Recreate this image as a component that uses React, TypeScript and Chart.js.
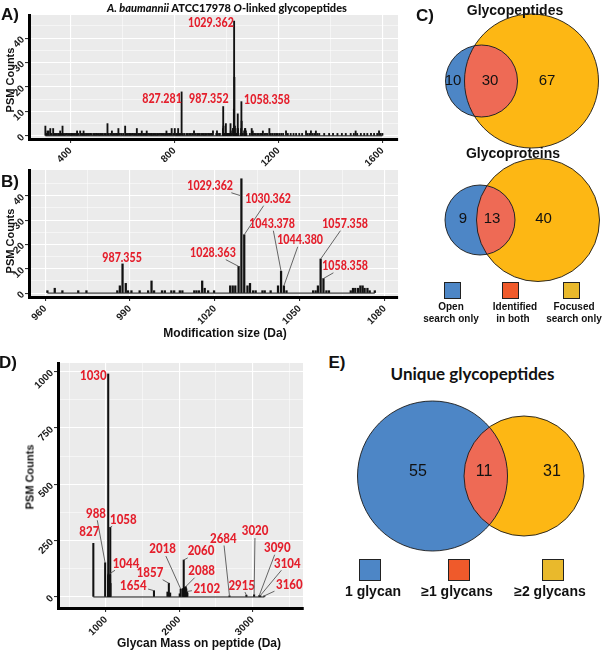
import React, { useEffect, useRef } from 'react';
import { Chart, registerables } from 'chart.js';

Chart.register(...registerables);

type Bar = [number, number];
type Ann = { text: string; x: number; y: number; tx?: number; ty?: number };

// ================= DATA =================
// Panel A – open search, modification mass (Da) vs PSM counts (outside the 954–1085 window)
const panelALowBars: Bar[] = [
  [303, 4], [307, 1], [311, 2], [316, 2], [322, 3], [327, 1], [333, 3], [338, 1], [342, 1], [347, 1],
  [352, 1], [356, 1], [360, 2], [365, 1], [369, 4], [374, 1], [379, 1], [386, 1], [391, 1], [397, 1],
  [402, 1], [406, 1], [411, 1], [416, 1], [421, 1], [425, 2], [430, 1], [437, 2], [442, 1], [446, 1],
  [450, 2], [455, 1], [460, 1], [465, 1], [470, 1], [475, 1], [481, 1], [488, 1], [493, 1], [498, 1],
  [503, 1], [509, 1], [514, 1], [519, 1], [524, 1], [530, 1], [536, 1], [542, 5], [547, 1], [553, 1],
  [559, 2], [564, 1], [570, 1], [575, 1], [580, 1], [584, 3], [590, 1], [597, 1], [603, 1], [610, 4],
  [615, 1], [620, 1], [625, 1], [629, 1], [634, 1], [640, 1], [645, 1], [650, 1], [655, 3], [660, 1],
  [665, 1], [670, 1], [674, 2], [679, 1], [684, 1], [689, 1], [693, 2], [698, 1], [704, 1], [709, 1],
  [713, 1], [718, 1], [723, 1], [728, 1], [733, 1], [738, 1], [744, 1], [749, 1], [754, 1], [759, 1],
  [764, 1], [769, 2], [774, 1], [779, 1], [784, 1], [789, 3], [795, 1], [801, 3], [806, 1], [810, 1],
  [814, 3], [818, 1], [822, 1], [827.281, 18], [832, 1], [838, 1], [846, 1], [851, 1], [857, 1], [863, 1],
  [869, 1], [875, 2], [881, 1], [887, 1], [892, 1], [897, 1], [903, 1], [908, 1], [913, 1], [918, 1],
  [923, 1], [929, 1], [934, 1], [939, 1], [944, 1], [948, 2],
];
const panelAHighBars: Bar[] = [
  [1090, 1], [1097, 3], [1101, 2], [1106, 1], [1112, 1], [1118, 1], [1124, 1], [1130, 1], [1135, 1], [1140, 2],
  [1146, 1], [1152, 1], [1158, 1], [1165, 3], [1171, 1], [1178, 1], [1185, 1], [1191, 1], [1197, 1], [1204, 1],
  [1211, 1], [1218, 1], [1229, 2], [1236, 1], [1247, 1], [1258, 1], [1268, 1], [1280, 1], [1291, 1], [1306, 2],
  [1312, 1], [1319, 1], [1325, 2], [1331, 1], [1338, 1], [1344, 2], [1350, 1], [1357, 1], [1376, 1], [1395, 1],
  [1410, 1], [1427, 1], [1444, 1], [1459, 1], [1478, 1], [1490, 1], [1497, 2], [1503, 1], [1517, 1], [1530, 1],
  [1542, 1], [1556, 1], [1568, 1], [1580, 1], [1587, 2], [1593, 1], [1600, 1],
];

// Panel B – 954–1085 Da window
const panelBBars: Bar[] = [
  [960.8, 1], [963.4, 2], [966.1, 1], [971.7, 1], [974.6, 1], [985.5, 1], [986.4, 3], [987.355, 12], [988.5, 4], [989.3, 1],
  [990.5, 1], [993.4, 1], [996.4, 1], [997.6, 5], [998.5, 1], [1001.3, 1], [1002.3, 1], [1004.6, 1], [1005.6, 1], [1007.6, 1],
  [1008.5, 1], [1012.7, 1], [1013.5, 1], [1014.4, 1], [1015.5, 5], [1016.4, 2], [1017.6, 1], [1019.7, 1], [1025.4, 3], [1026.3, 3],
  [1027.2, 3], [1028.363, 11], [1029.362, 47], [1030.362, 24], [1031.5, 3], [1032.4, 4], [1033.5, 1], [1034.4, 1], [1036.8, 1], [1037.6, 1],
  [1039.7, 1], [1042.3, 3], [1043.378, 9], [1044.38, 3], [1045.3, 1], [1054.7, 1], [1055.6, 1], [1056.4, 3], [1057.358, 14], [1058.358, 6],
  [1059.4, 1], [1060.3, 1], [1068.0, 1], [1068.8, 2], [1069.6, 2], [1070.6, 2], [1071.4, 3], [1072.2, 3], [1072.9, 2], [1073.9, 2],
  [1074.7, 1], [1076.5, 1],
];

// Panel D – glycan mass on peptide (Da) vs PSM counts
const panelDBars: Bar[] = [
  [827, 238], [988, 152], [1028, 95], [1030, 990], [1034, 100], [1038, 104], [1041, 100], [1044, 102], [1048, 100], [1052, 98],
  [1055, 96], [1058, 309], [1061, 60], [1654, 28], [1838, 22], [1857, 61], [1875, 18], [2005, 14], [2018, 36], [2045, 34],
  [2052, 38], [2060, 164], [2068, 40], [2075, 42], [2082, 38], [2088, 46], [2095, 36], [2102, 24], [2110, 18], [2684, 5],
  [2915, 8], [3020, 10], [3090, 6], [3104, 6], [3160, 5],
];

// Axis ticks
const aXMajor = [400, 800, 1200, 1600];
const aXMinor = [600, 1000, 1400];
const bXMajor = [960, 990, 1020, 1050, 1080];
const bXMinor = [975, 1005, 1035, 1065];
const psmMajor = [0, 10, 20, 30, 40];
const psmMinor = [5, 15, 25, 35, 45];
const dXMajor = [1000, 2000, 3000];
const dXMinor = [500, 1500, 2500, 3500];
const dYMajor = [0, 250, 500, 750, 1000];
const dYMinor = [125, 375, 625, 875];

// Peak labels (label anchor and the peak it points to, in data units)
const panelALabels: Ann[] = [
  { text: '827.281', x: 752, y: 15 },
  { text: '987.352', x: 932, y: 15 },
  { text: '1029.362', x: 940, y: 46.3 },
  { text: '1058.358', x: 1156, y: 14.6 },
];
const panelBLabels: Ann[] = [
  { text: '987.355', x: 987.2, y: 14.4 },
  { text: '1028.363', x: 1019.3, y: 16.5, tx: 1028.363, ty: 11 },
  { text: '1029.362', x: 1018.3, y: 44, tx: 1029.2, ty: 40 },
  { text: '1030.362', x: 1038.8, y: 38.7, tx: 1030.362, ty: 24 },
  { text: '1043.378', x: 1040.2, y: 28.4, tx: 1043.378, ty: 9 },
  { text: '1044.380', x: 1050.1, y: 21.8, tx: 1044.38, ty: 3 },
  { text: '1057.358', x: 1066, y: 28.4, tx: 1057.358, ty: 14 },
  { text: '1058.358', x: 1066, y: 11.1, tx: 1058.358, ty: 6 },
];
const panelDLabels: Ann[] = [
  { text: '1030', x: 827, y: 981 },
  { text: '988', x: 863, y: 372, tx: 988, ty: 152 },
  { text: '1058', x: 1236, y: 346, tx: 1058, ty: 309 },
  { text: '827', x: 772, y: 290 },
  { text: '1044', x: 1273, y: 150, tx: 1044, ty: 102 },
  { text: '1654', x: 1372, y: 53, tx: 1654, ty: 28 },
  { text: '1857', x: 1600, y: 108, tx: 1857, ty: 61 },
  { text: '2018', x: 1773, y: 213, tx: 2018, ty: 36 },
  { text: '2060', x: 2296, y: 205, tx: 2060, ty: 164 },
  { text: '2088', x: 2305, y: 117, tx: 2088, ty: 46 },
  { text: '2102', x: 2374, y: 39, tx: 2102, ty: 24 },
  { text: '2684', x: 2600, y: 260, tx: 2684, ty: 5 },
  { text: '2915', x: 2851, y: 53, tx: 2915, ty: 8 },
  { text: '3020', x: 3033, y: 293, tx: 3020, ty: 10 },
  { text: '3090', x: 3337, y: 219, tx: 3090, ty: 6 },
  { text: '3104', x: 3473, y: 150, tx: 3104, ty: 6 },
  { text: '3160', x: 3500, y: 56, tx: 3160, ty: 5 },
];

// Venn counts: [only first set, both, only second set]
const glycopeptideCounts = [10, 30, 67];
const glycoproteinCounts = [9, 13, 40];
const uniqueGlycopeptideCounts = [55, 11, 31];
const vennLegendC = ['Open|search only', 'Identified|in both', 'Focused|search only'];
const vennLegendE = ['1 glycan', '≥1 glycans', '≥2 glycans'];

// ================= STYLE / LAYOUT =================
const SANS = "'Liberation Sans', Arial, Helvetica, sans-serif";
const LABEL_FAMILY = "Lato, 'Open Sans', sans-serif";
const LABEL_SQUEEZE = 0.82;
const LABEL_RED = '#E41F2C';
const VENN_BLUE = '#4D86C6';
const VENN_YELLOW = '#FDB714';
const VENN_OVERLAP = '#EE6A55';
const LEG_BLUE = '#4D86C6';
const LEG_RED = '#EF5A2B';
const LEG_YELLOW = '#E9B92C';

type VennGeo = { a: [number, number, number]; b: [number, number, number]; pos: [number, number][] };
const vennC1: VennGeo = { a: [481.5, 81, 36], b: [531.5, 81, 67], pos: [[453, 81], [490, 81], [547, 81]] };
const vennC2: VennGeo = { a: [480, 220, 35], b: [538, 220, 61.5], pos: [[463, 219], [492, 219], [543.5, 219]] };
const vennE: VennGeo = { a: [432.5, 476, 75], b: [524, 476, 60], pos: [[418, 472], [484, 472], [552, 472]] };

const panelBgPlugin = {
  id: 'panelBg',
  beforeDraw(chart: any) {
    const { ctx, chartArea: a } = chart;
    ctx.save();
    ctx.fillStyle = '#EBEBEB';
    ctx.fillRect(a.left, a.top, a.right - a.left, a.bottom - a.top);
    ctx.restore();
  },
};

function annotationPlugin(labels: Ann[], fontSize: number) {
  return {
    id: 'peakLabels',
    afterDatasetsDraw(chart: any) {
      const { ctx } = chart;
      const xs = chart.scales.x;
      const ys = chart.scales.y;
      ctx.save();
      ctx.font = `900 ${fontSize}px ${LABEL_FAMILY}`;
      ctx.textAlign = 'center';
      ctx.textBaseline = 'middle';
      for (const l of labels) {
        const px = xs.getPixelForValue(l.x);
        const py = ys.getPixelForValue(l.y);
        const w = ctx.measureText(l.text).width * LABEL_SQUEEZE;
        if (l.tx !== undefined && l.ty !== undefined) {
          const tx = xs.getPixelForValue(l.tx);
          const ty = ys.getPixelForValue(l.ty);
          const hw = w / 2 + 1.5;
          const hh = fontSize * 0.4 + 1.5;
          const dx = tx - px;
          const dy = ty - py;
          if (Math.abs(dx) > hw || Math.abs(dy) > hh) {
            const t = Math.min(dx !== 0 ? hw / Math.abs(dx) : Infinity, dy !== 0 ? hh / Math.abs(dy) : Infinity);
            ctx.beginPath();
            ctx.strokeStyle = '#555';
            ctx.lineWidth = 0.9;
            ctx.moveTo(px + dx * t, py + dy * t);
            ctx.lineTo(tx, ty);
            ctx.stroke();
          }
        }
        ctx.save();
        ctx.translate(px, py);
        ctx.scale(LABEL_SQUEEZE, 1);
        ctx.fillStyle = LABEL_RED;
        ctx.fillText(l.text, 0, 0);
        ctx.restore();
      }
      ctx.restore();
    },
  };
}

interface BarPanelProps {
  left: number; top: number; width: number; height: number;
  area: [number, number, number, number];
  bars: Bar[];
  xRange: [number, number]; yRange: [number, number];
  xMajor: number[]; xMinor: number[]; yMajor: number[]; yMinor: number[];
  labels: Ann[]; labelSize: number; barThickness: number;
}

function axisOpts(range: [number, number], major: number[], minor: number[], fit: (s: any) => void) {
  const all = [...major, ...minor].sort((p, q) => p - q);
  const isMajor = (v: number) => major.includes(v);
  return {
    type: 'linear' as const,
    min: range[0],
    max: range[1],
    offset: false,
    afterBuildTicks: (s: any) => { s.ticks = all.map((v) => ({ value: v })); },
    afterFit: fit,
    ticks: {
      autoSkip: false,
      minRotation: 45,
      maxRotation: 45,
      padding: 2,
      color: '#1a1a1a',
      font: { family: SANS, size: 10, weight: 'bold' as const },
      callback: (v: any) => (isMajor(Number(v)) ? String(v) : ''),
    },
    grid: {
      offset: false,
      color: '#ffffff',
      lineWidth: (c: any) => (c.tick && isMajor(c.tick.value) ? 1.1 : 0.5),
      tickColor: (c: any) => (c.tick && isMajor(c.tick.value) ? '#333' : 'rgba(0,0,0,0)'),
      tickLength: 4,
      drawTicks: true,
    },
    border: { display: true, color: '#000', width: 3 },
  };
}

function BarPanel(p: BarPanelProps) {
  const ref = useRef<HTMLCanvasElement>(null);
  useEffect(() => {
    const [x0, y0, x1, y1] = p.area;
    const padTop = y0 - p.top;
    const padRight = p.left + p.width - x1;
    const yW = x0 - p.left;
    const xH = p.top + p.height - y1;
    const masses = p.bars.map((b) => b[0]);
    const chart = new Chart(ref.current!, {
      type: 'bar',
      data: {
        datasets: [
          {
            type: 'line',
            data: [{ x: Math.min(...masses), y: 0 }, { x: Math.max(...masses), y: 0 }],
            borderColor: '#111',
            borderWidth: 1,
            pointRadius: 0,
          } as any,
          {
            type: 'bar',
            data: p.bars.map(([m, c]) => ({ x: m, y: c })),
            backgroundColor: '#111',
            barThickness: p.barThickness,
          } as any,
        ],
      },
      options: {
        responsive: false,
        animation: false,
        devicePixelRatio: 1,
        events: [],
        layout: { autoPadding: false, padding: { top: padTop, right: padRight, left: 0, bottom: 0 } },
        plugins: { legend: { display: false }, tooltip: { enabled: false } },
        scales: {
          x: axisOpts(p.xRange, p.xMajor, p.xMinor, (s: any) => { s.height = xH; }),
          y: axisOpts(p.yRange, p.yMajor, p.yMinor, (s: any) => { s.width = yW; }),
        } as any,
      } as any,
      plugins: [panelBgPlugin, annotationPlugin(p.labels, p.labelSize)],
    });
    return () => chart.destroy();
  }, []);
  return (
    <canvas
      ref={ref}
      width={p.width}
      height={p.height}
      style={{ position: 'absolute', left: p.left, top: p.top, width: p.width, height: p.height }}
    />
  );
}

function vennPlugin(counts: number[], geo: VennGeo, numSize: number) {
  return {
    id: 'vennOverlap',
    afterDatasetsDraw(chart: any) {
      const { ctx } = chart;
      const ea = chart.getDatasetMeta(0).data[0];
      const eb = chart.getDatasetMeta(1).data[0];
      const ra = ea.options.radius;
      const rb = eb.options.radius;
      ctx.save();
      ctx.beginPath();
      ctx.arc(ea.x, ea.y, ra, 0, Math.PI * 2);
      ctx.clip();
      ctx.beginPath();
      ctx.arc(eb.x, eb.y, rb, 0, Math.PI * 2);
      ctx.fillStyle = VENN_OVERLAP;
      ctx.fill();
      ctx.restore();
      ctx.save();
      ctx.strokeStyle = '#1a1a1a';
      ctx.lineWidth = 0.9;
      ctx.beginPath();
      ctx.arc(ea.x, ea.y, ra, 0, Math.PI * 2);
      ctx.stroke();
      ctx.beginPath();
      ctx.arc(eb.x, eb.y, rb, 0, Math.PI * 2);
      ctx.stroke();
      ctx.fillStyle = '#111';
      ctx.font = `${numSize}px ${SANS}`;
      ctx.textAlign = 'center';
      ctx.textBaseline = 'middle';
      const xs = chart.scales.x;
      const ys = chart.scales.y;
      counts.forEach((c, i) => {
        ctx.fillText(String(c), xs.getPixelForValue(geo.pos[i][0]), ys.getPixelForValue(geo.pos[i][1]));
      });
      ctx.restore();
    },
  };
}

function VennPanel(props: { left: number; top: number; width: number; height: number; geo: VennGeo; counts: number[]; numSize: number }) {
  const ref = useRef<HTMLCanvasElement>(null);
  const { left, top, width, height, geo, counts, numSize } = props;
  useEffect(() => {
    const chart = new Chart(ref.current!, {
      type: 'bubble',
      data: {
        datasets: [
          { data: [{ x: geo.a[0], y: geo.a[1], r: geo.a[2] }], backgroundColor: VENN_BLUE, borderWidth: 0, clip: false } as any,
          { data: [{ x: geo.b[0], y: geo.b[1], r: geo.b[2] }], backgroundColor: VENN_YELLOW, borderWidth: 0, clip: false } as any,
        ],
      },
      options: {
        responsive: false,
        animation: false,
        devicePixelRatio: 1,
        events: [],
        layout: { padding: 0, autoPadding: false },
        plugins: { legend: { display: false }, tooltip: { enabled: false } },
        scales: {
          x: { type: 'linear', display: false, min: left, max: left + width },
          y: { type: 'linear', display: false, min: top, max: top + height, reverse: true },
        },
      } as any,
      plugins: [vennPlugin(counts, geo, numSize)],
    });
    return () => chart.destroy();
  }, []);
  return (
    <canvas ref={ref} width={width} height={height} style={{ position: 'absolute', left, top, width, height }} />
  );
}

function Txt(props: {
  x: number; y: number; size: number; children: React.ReactNode; weight?: string | number;
  family?: string; rotate?: number; color?: string; style?: React.CSSProperties;
}) {
  const { x, y, size, children, weight = 'bold', family = SANS, rotate = 0, color = '#111', style } = props;
  return (
    <div
      style={{
        position: 'absolute', left: x, top: y, transform: `translate(-50%, -50%) rotate(${rotate}deg)`,
        fontSize: size, fontWeight: weight as any, fontFamily: family, color, whiteSpace: 'nowrap', lineHeight: 1,
        textAlign: 'center', ...style,
      }}
    >
      {children}
    </div>
  );
}

function Square({ x, y, s, color }: { x: number; y: number; s: number; color: string }) {
  return (
    <div style={{ position: 'absolute', left: x, top: y, width: s, height: s, background: color, border: '1px solid #222', boxSizing: 'border-box' }} />
  );
}

export default function App() {
  const panelABars = [...panelALowBars, ...panelBBars, ...panelAHighBars];
  const legC = vennLegendC.map((t) => t.split('|'));
  return (
    <div style={{ position: 'fixed', left: 0, top: 0, width: 602, height: 651, background: '#fff', overflow: 'hidden', fontFamily: SANS }}>
      {/* Panel A */}
      <BarPanel left={0} top={0} width={405} height={168} area={[29, 15, 398, 139]} bars={panelABars}
        xRange={[240, 1660]} yRange={[-1.3, 49.5]} xMajor={aXMajor} xMinor={aXMinor} yMajor={psmMajor} yMinor={psmMinor}
        labels={panelALabels} labelSize={13} barThickness={1.2} />
      {/* Panel B */}
      <BarPanel left={0} top={150} width={405} height={180} area={[29, 170, 398, 297]} bars={panelBBars}
        xRange={[954.3, 1084.7]} yRange={[-1.6, 50.6]} xMajor={bXMajor} xMinor={bXMinor} yMajor={psmMajor} yMinor={psmMinor}
        labels={panelBLabels} labelSize={13} barThickness={1.6} />
      {/* Panel D */}
      <BarPanel left={0} top={345} width={310} height={292} area={[58, 363, 303, 608]} bars={panelDBars}
        xRange={[345, 3687]} yRange={[-49, 1038.6]} xMajor={dXMajor} xMinor={dXMinor} yMajor={dYMajor} yMinor={dYMinor}
        labels={panelDLabels} labelSize={14} barThickness={1.4} />

      {/* Venn diagrams */}
      <VennPanel left={400} top={0} width={202} height={150} geo={vennC1} counts={glycopeptideCounts} numSize={15} />
      <VennPanel left={400} top={150} width={202} height={138} geo={vennC2} counts={glycoproteinCounts} numSize={15} />
      <VennPanel left={340} top={395} width={262} height={165} geo={vennE} counts={uniqueGlycopeptideCounts} numSize={16} />

      {/* Panel letters */}
      <Txt x={10} y={14} size={17}>A)</Txt>
      <Txt x={10} y={181} size={17}>B)</Txt>
      <Txt x={425} y={15} size={17}>C)</Txt>
      <Txt x={8} y={362} size={17}>D)</Txt>
      <Txt x={337} y={362} size={17}>E)</Txt>

      {/* Titles */}
      <Txt x={227} y={7} size={11} family="Lato, sans-serif" weight={900}>
        <i>A. baumannii</i> ATCC17978 <i>O</i>-linked glycopeptides
      </Txt>
      <Txt x={10} y={80} size={11} rotate={-90}>PSM Counts</Txt>
      <Txt x={10} y={241} size={11} rotate={-90}>PSM Counts</Txt>
      <Txt x={225} y={333} size={12}>Modification size (Da)</Txt>
      <Txt x={30} y={477} size={11} rotate={-90}>PSM Counts</Txt>
      <Txt x={199} y={643} size={12}>Glycan Mass on peptide (Da)</Txt>

      <Txt x={515} y={10} size={14}>Glycopeptides</Txt>
      <Txt x={513} y={153} size={14}>Glycoproteins</Txt>
      <Square x={443.5} y={282} s={17} color={LEG_BLUE} />
      <Square x={502} y={282} s={17} color={LEG_RED} />
      <Square x={562.5} y={282} s={17} color={LEG_YELLOW} />
      {legC.map((lines, i) => (
        <React.Fragment key={i}>
          <Txt x={[451, 515, 574][i]} y={306.5} size={10}>{lines[0]}</Txt>
          <Txt x={[451, 513, 574][i]} y={319} size={10}>{lines[1]}</Txt>
        </React.Fragment>
      ))}

      <Txt x={472.5} y={373} size={17} family="Lato, sans-serif">Unique glycopeptides</Txt>
      <Square x={359} y={559} s={22} color={LEG_BLUE} />
      <Square x={448} y={559} s={22} color={LEG_RED} />
      <Square x={542} y={559} s={22} color={LEG_YELLOW} />
      {vennLegendE.map((t, i) => (
        <Txt key={t} x={[373, 457, 550][i]} y={591} size={14}>{t}</Txt>
      ))}
    </div>
  );
}
